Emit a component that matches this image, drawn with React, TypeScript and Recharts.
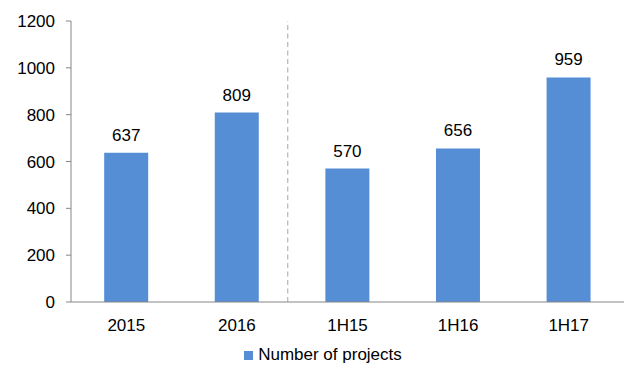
import { BarChart, Bar, XAxis, YAxis, Legend, LabelList, ReferenceLine } from 'recharts';

const categories = ['2015', '2016', '1H15', '1H16', '1H17'];
const projects = [637, 809, 570, 656, 959];
const yTicks = [0, 200, 400, 600, 800, 1000, 1200];
const boundaryTicks = [0, 1, 2, 3, 4, 5];
const dividerAt = 1.96;

// bars sit in the middle of each category slot on a 0..5 scale
const data = categories.map((name, i) => ({ name, pos: i + 0.5, projects: projects[i] }));

const FONT = '"Liberation Sans", Arial, sans-serif';
const BLUE = '#558ED5';
const AXIS = '#868686';

function LegendContent() {
  return (
    <div
      style={{
        display: 'flex',
        justifyContent: 'center',
        alignItems: 'center',
        height: 24,
        paddingLeft: 22,
        fontFamily: FONT,
        fontSize: 17,
        color: '#000',
      }}
    >
      <span style={{ width: 9, height: 9, background: BLUE, marginRight: 5, display: 'inline-block' }} />
      <span>Number of projects</span>
    </div>
  );
}

export default function App() {
  return (
    <div style={{ position: 'absolute', left: 0, top: 0, width: 630, height: 368, background: '#fff' }}>
      <BarChart
        width={630}
        height={368}
        data={data}
        margin={{ top: 21, right: 6, left: 0, bottom: 1 }}
        barCategoryGap="30%"
      >
        <XAxis
          xAxisId={0}
          dataKey="pos"
          type="number"
          domain={[0, 5]}
          ticks={boundaryTicks}
          tick={false}
          height={5}
          axisLine={{ stroke: AXIS }}
          tickLine={{ stroke: AXIS }}
          tickSize={5}
          allowDataOverflow
        />
        <XAxis
          xAxisId={1}
          dataKey="name"
          height={36}
          axisLine={false}
          tickLine={false}
          tickSize={0}
          tickMargin={12}
          tick={{ fill: '#000', fontSize: 17, fontFamily: FONT }}
        />
        <YAxis
          width={71}
          domain={[0, 1200]}
          ticks={yTicks}
          axisLine={{ stroke: AXIS }}
          tickLine={{ stroke: AXIS }}
          tickSize={5}
          tickMargin={11}
          tick={{ fill: '#000', fontSize: 17, fontFamily: FONT }}
        />
        <ReferenceLine xAxisId={0} x={dividerAt} stroke="#A6A6A6" strokeDasharray="5 3.5" />
        <Legend verticalAlign="bottom" content={<LegendContent />} />
        <Bar xAxisId={0} dataKey="projects" fill={BLUE} isAnimationActive={false}>
          <LabelList
            dataKey="projects"
            position="top"
            offset={12}
            fill="#000"
            fontSize={17}
            fontFamily={FONT}
          />
        </Bar>
      </BarChart>
    </div>
  );
}
